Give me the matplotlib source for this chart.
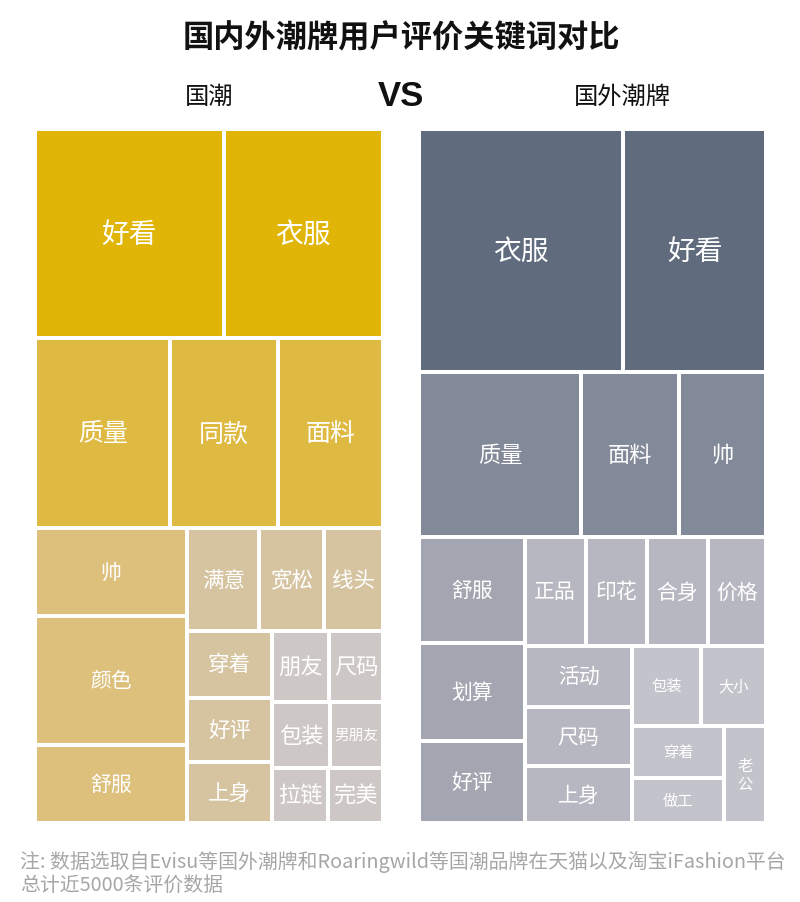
import matplotlib
matplotlib.use("Agg")
import matplotlib.pyplot as plt
from matplotlib.patches import Rectangle

plt.rcParams["font.family"] = ["Noto Sans CJK SC", "DejaVu Sans"]

# keyword "weights" (relative cell areas)
LEFT_LABELS = ["好看", "衣服", "质量", "同款", "面料", "帅", "颜色", "舒服",
               "满意", "宽松", "线头", "穿着", "好评", "上身",
               "朋友", "尺码", "包装", "男朋友", "拉链", "完美"]
LEFT_VALUES = [388, 328, 253, 201, 196, 130, 192, 117,
               73, 65, 59, 57, 54, 51,
               40, 38, 37, 34, 30, 30]
LEFT_TIERS = [0, 0, 1, 1, 1, 2, 2, 2, 3, 3, 3, 3, 3, 3, 4, 4, 4, 4, 4, 4]

RIGHT_LABELS = ["衣服", "好看", "质量", "面料", "帅", "舒服", "划算", "好评",
                "正品", "印花", "合身", "价格", "活动", "尺码", "上身",
                "包装", "大小", "穿着", "做工", "老公"]
RIGHT_VALUES = [488, 341, 264, 159, 141, 110, 102, 85,
                65, 65, 65, 62, 65, 63, 60,
                54, 51, 47, 41, 40]
RIGHT_TIERS = [0, 0, 1, 1, 1, 2, 2, 2, 3, 3, 3, 3, 3, 3, 3, 4, 4, 4, 4, 4]

# nesting of the treemaps: "h" splits along x, "v" splits along y
LEFT_TREE = ("v", [
    ("h", [0, 1]),
    ("h", [2, 3, 4]),
    ("h", [
        ("v", [5, 6, 7]),
        ("v", [
            ("h", [8, 9, 10]),
            ("h", [
                ("v", [11, 12, 13]),
                ("v", [("h", [14, 15]), ("h", [16, 17]), ("h", [18, 19])]),
            ]),
        ]),
    ]),
])
RIGHT_TREE = ("v", [
    ("h", [0, 1]),
    ("h", [2, 3, 4]),
    ("h", [
        ("v", [5, 6, 7]),
        ("v", [
            ("h", [8, 9, 10, 11]),
            ("h", [
                ("v", [12, 13, 14]),
                ("v", [
                    ("h", [15, 16]),
                    ("h", [("v", [17, 18]), 19]),
                ]),
            ]),
        ]),
    ]),
])

LEFT_COLORS = ["#E0B507", "#DFBA42", "#DCC07B", "#D6C4A1", "#CDC7C5"]
RIGHT_COLORS = ["#606C7E", "#828998", "#A3A6B0", "#B6B7C0", "#C3C4CB"]
LEFT_SIZES = [20, 18, 15, 15.5, 16]
RIGHT_SIZES = [20, 16, 15, 15, 11]

GAP = 4  # white gap between cells, px


def subtotal(node, values):
    if isinstance(node, int):
        return values[node]
    return sum(subtotal(k, values) for k in node[1])


def layout(node, values, x0, y0, x1, y1, out):
    if isinstance(node, int):
        out.append((node, x0, y0, x1, y1))
        return
    direction, kids = node
    totals = [subtotal(k, values) for k in kids]
    s = sum(totals)
    pos = x0 if direction == "h" else y0
    for k, t in zip(kids, totals):
        if direction == "h":
            step = (x1 - x0) * t / s
            layout(k, values, pos, y0, pos + step, y1, out)
        else:
            step = (y1 - y0) * t / s
            layout(k, values, x0, pos, x1, pos + step, out)
        pos += step


def draw_treemap(ax, tree, labels, values, tiers, colors, sizes, bounds):
    cells = []
    # grow the box by half a gap so the outer edges land where they should
    x0, y0, x1, y1 = bounds
    layout(tree, values, x0 - GAP / 2, y0 - GAP / 2, x1 + GAP / 2, y1 + GAP / 2, cells)
    for i, cx0, cy0, cx1, cy1 in cells:
        w, h = cx1 - cx0, cy1 - cy0
        ax.add_patch(Rectangle((cx0, cy0), w, h, facecolor=colors[tiers[i]],
                               edgecolor="white", linewidth=GAP * 0.72))
        text = labels[i]
        size = min(sizes[tiers[i]], 0.9 * (w - GAP) * 0.72 / len(text))
        if w < 45:
            text = "\n".join(text)
            size = sizes[tiers[i]]
        ax.text((cx0 + cx1) / 2, (cy0 + cy1) / 2, text, color="white",
                fontsize=size, ha="center", va="center", linespacing=1.0)


fig = plt.figure(figsize=(8, 9.03), dpi=100)
ax = fig.add_axes([0, 0, 1, 1])
ax.set_xlim(0, 800)
ax.set_ylim(903, 0)
ax.axis("off")

draw_treemap(ax, LEFT_TREE, LEFT_LABELS, LEFT_VALUES, LEFT_TIERS,
             LEFT_COLORS, LEFT_SIZES, (37, 132, 381, 822))
draw_treemap(ax, RIGHT_TREE, RIGHT_LABELS, RIGHT_VALUES, RIGHT_TIERS,
             RIGHT_COLORS, RIGHT_SIZES, (421, 132, 764, 822))

ax.text(401, 38, "国内外潮牌用户评价关键词对比", fontsize=22.5, fontweight="bold",
        ha="center", va="center", color="#111111")
ax.text(209, 97, "国潮", fontsize=17.5, ha="center", va="center", color="#111111")
ax.text(622, 97, "国外潮牌", fontsize=17.5, ha="center", va="center", color="#111111")
ax.text(401, 97, "VS", fontsize=25, fontweight="bold", ha="center", va="center",
        color="#111111", family=["Liberation Sans", "DejaVu Sans"])

note = ("注: 数据选取自Evisu等国外潮牌和Roaringwild等国潮品牌在天猫以及淘宝iFashion平台\n"
        "总计近5000条评价数据")
ax.text(20, 874, note, fontsize=14.3, ha="left", va="center", color="#A6A6A6",
        linespacing=1.15)

fig.savefig("out.png", dpi=100)
